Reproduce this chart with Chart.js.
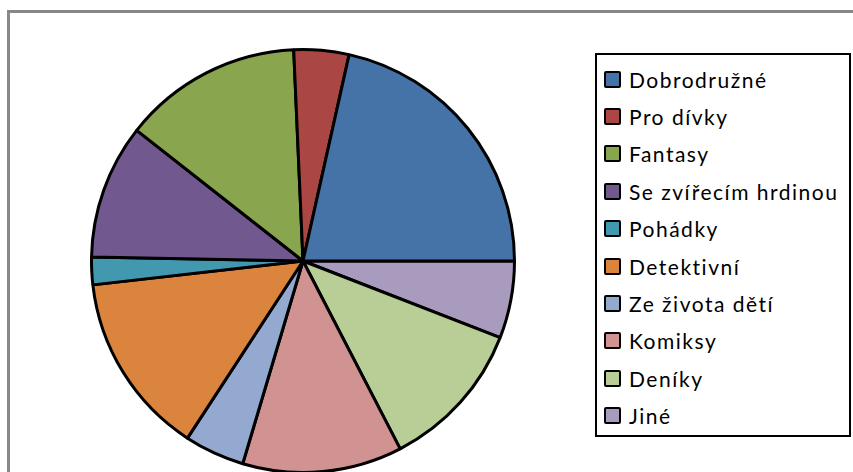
<!DOCTYPE html>
<html lang="cs">
<head>
  <meta charset="UTF-8" />
  <title>Žánry</title>
  <script src="https://cdn.jsdelivr.net/npm/chart.js"></script>
  <style>
    body {
      margin: 0;
      width: 853px;
      height: 472px;
      overflow: hidden;
      background: #fff;
      position: relative;
      font-family: Lato, "Open Sans", sans-serif;
    }
    .frame {
      position: absolute;
      left: 7px;
      top: 10px;
      width: 900px;
      height: 520px;
      border-left: 3px solid #888;
      border-top: 3px solid #888;
    }
    #pie {
      position: absolute;
      left: 0;
      top: 0;
    }
    .legend {
      position: absolute;
      left: 595px;
      top: 53px;
      width: 252px;
      height: 380px;
      border: 2px solid #000;
      background: #fff;
    }
    .item {
      position: absolute;
      left: 7px;
      height: 20px;
      display: flex;
      align-items: center;
      font-size: 21px;
      color: #000;
      white-space: nowrap;
      letter-spacing: 1.5px;
    }
    .item span.box {
      display: inline-block;
      width: 13px;
      height: 13px;
      border: 2.5px solid #000;
      border-radius: 2px;
      margin-right: 8px;
    }
  </style>
</head>
<body>
  <div class="frame"></div>
  <canvas id="pie" width="853" height="520"></canvas>
  <div class="legend" id="legend"></div>

  <script>
    const genres = ['Dobrodružné', 'Pro dívky', 'Fantasy', 'Se zvířecím hrdinou', 'Pohádky',
      'Detektivní', 'Ze života dětí', 'Komiksy', 'Deníky', 'Jiné'];
    const shares = [21.5, 4.2, 13.7, 10.3, 2.1, 14.0, 4.6, 12.2, 11.5, 5.9];
    const colors = ['#4572A7', '#AA4643', '#89A54E', '#71588F', '#4198AF',
      '#DB843D', '#93A9CF', '#D19392', '#B9CD96', '#A99BBD'];

    // excel goes counterclockwise from 3 o'clock here, chart.js goes clockwise,
    // so feed the slices reversed and start at 90deg
    const revLabels = genres.slice().reverse();
    const revShares = shares.slice().reverse();
    const revColors = colors.slice().reverse();

    new Chart(document.getElementById('pie'), {
      type: 'pie',
      data: {
        labels: revLabels,
        datasets: [{
          data: revShares,
          backgroundColor: revColors,
          borderColor: '#000',
          borderWidth: 3
        }]
      },
      options: {
        responsive: false,
        animation: false,
        rotation: 90,
        layout: { padding: { left: 90, right: 337, top: 48, bottom: 46 } },
        plugins: {
          legend: { display: false },
          tooltip: { enabled: false }
        }
      }
    });

    const legend = document.getElementById('legend');
    genres.forEach((g, i) => {
      const row = document.createElement('div');
      row.className = 'item';
      row.style.top = (14 + i * 37.4) + 'px';
      row.innerHTML = '<span class="box" style="background:' + colors[i] + '"></span>' + g;
      legend.appendChild(row);
    });
  </script>
</body>
</html>
